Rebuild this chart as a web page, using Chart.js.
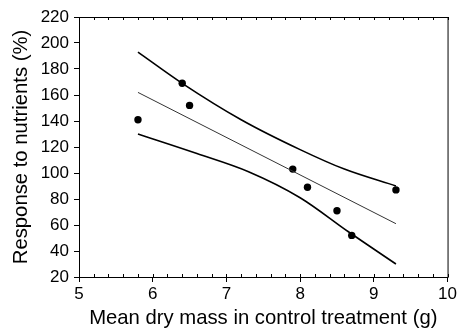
<!DOCTYPE html>
<html>
<head>
<meta charset="utf-8">
<script src="https://cdn.jsdelivr.net/npm/chart.js@4"></script>
<style>
  html, body { margin: 0; padding: 0; background: #fff; }
  #wrap { width: 459px; height: 332px; }
</style>
</head>
<body>
<div id="wrap"><canvas id="scatterChart" width="459" height="332"></canvas></div>
<script>
// observed points
const dryMass = [5.8, 6.4, 6.5, 7.9, 8.1, 8.5, 8.7, 9.3];
const response = [141, 169, 152, 103, 89, 71, 52, 87];

// fitted line
const fitX = [5.8, 9.3];
const fitY = [162, 61];

// confidence band
const upperX = [5.8, 6.4, 7.2, 8.0, 8.6, 9.3];
const upperY = [193, 169, 141, 118, 103, 90];
const lowerX = [5.8, 6.6, 7.3, 8.0, 8.65, 9.3];
const lowerY = [130, 115, 101, 81, 55, 30];

const xTicks = [5, 6, 7, 8, 9, 10];
const yTicks = [20, 40, 60, 80, 100, 120, 140, 160, 180, 200, 220];

function toPts(xs, ys) {
  return xs.map(function (x, i) {
    return { x: x, y: ys[i] };
  });
}

const FONT = "'Liberation Sans', Arial, Helvetica, sans-serif";

// frame + minor ticks on top and bottom
const framePlugin = {
  id: "frame",
  afterDraw(chart) {
    const ctx = chart.ctx;
    const a = chart.chartArea;
    const xs = chart.scales.x;
    ctx.save();
    ctx.strokeStyle = "#000";
    ctx.lineWidth = 1;
    ctx.strokeRect(a.left + 0.5, a.top + 0.5, a.right - a.left, a.bottom - a.top);
    ctx.beginPath();
    for (let v = 5; v <= 10.001; v += 0.2) {
      const px = Math.round(xs.getPixelForValue(v)) + 0.5;
      ctx.moveTo(px, a.bottom);
      ctx.lineTo(px, a.bottom - 3);
      ctx.moveTo(px, a.top);
      ctx.lineTo(px, a.top + 3);
    }
    ctx.stroke();
    ctx.restore();
  },
};

new Chart(document.getElementById("scatterChart"), {
  type: "scatter",
  data: {
    datasets: [
      {
        label: "upper",
        data: toPts(upperX, upperY),
        showLine: true,
        borderColor: "#000",
        borderWidth: 1.6,
        pointRadius: 0,
        cubicInterpolationMode: "monotone",
      },
      {
        label: "lower",
        data: toPts(lowerX, lowerY),
        showLine: true,
        borderColor: "#000",
        borderWidth: 1.6,
        pointRadius: 0,
        cubicInterpolationMode: "monotone",
      },
      {
        label: "fit",
        data: toPts(fitX, fitY),
        showLine: true,
        borderColor: "#333",
        borderWidth: 1,
        pointRadius: 0,
      },
      {
        label: "data",
        data: toPts(dryMass, response),
        backgroundColor: "#000",
        borderColor: "#000",
        pointRadius: 3.7,
        borderWidth: 0,
      },
    ],
  },
  options: {
    responsive: false,
    animation: false,
    layout: { padding: { top: 17, right: 9, left: 0, bottom: 0 } },
    plugins: {
      legend: { display: false },
      tooltip: { enabled: false },
    },
    scales: {
      x: {
        type: "linear",
        min: 5,
        max: 10,
        afterBuildTicks: function (scale) {
          scale.ticks = xTicks.map(function (v) { return { value: v }; });
        },
        afterFit: function (scale) { scale.height = 55; },
        grid: { drawOnChartArea: false, tickLength: 5, color: "#000" },
        border: { color: "#000" },
        ticks: { color: "#000", padding: 2, font: { family: FONT, size: 17 } },
        title: {
          display: true,
          text: "Mean dry mass in control treatment (g)",
          color: "#000",
          font: { family: FONT, size: 20.3 },
          padding: { top: 0, bottom: 1 },
        },
      },
      y: {
        type: "linear",
        min: 20,
        max: 220,
        afterBuildTicks: function (scale) {
          scale.ticks = yTicks.map(function (v) { return { value: v }; });
        },
        afterFit: function (scale) { scale.width = 79; },
        grid: { drawOnChartArea: false, tickLength: 5, color: "#000" },
        border: { color: "#000" },
        ticks: { color: "#000", padding: 5, font: { family: FONT, size: 17 } },
        title: {
          display: true,
          text: "Response to nutrients (%)",
          color: "#000",
          font: { family: FONT, size: 20.3 },
          padding: { top: 9, bottom: 0 },
        },
      },
    },
  },
  plugins: [framePlugin],
});
</script>
</body>
</html>
